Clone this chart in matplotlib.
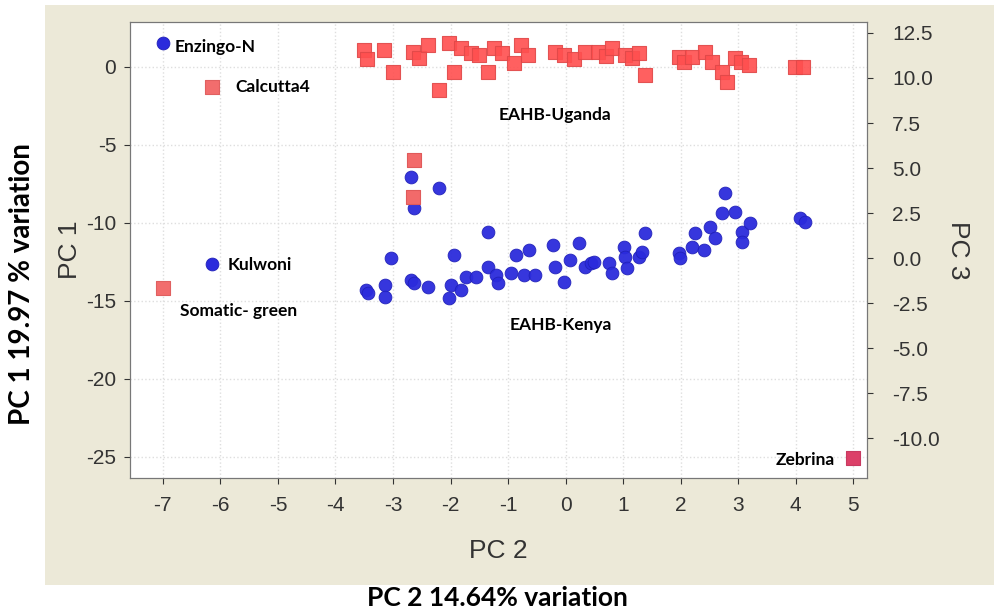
import matplotlib.pyplot as plt
from matplotlib.patches import Rectangle

plt.rcParams['axes.unicode_minus'] = False

# PC2 / PC1 scores for the EAHB-Uganda group (red squares)
uganda_pc2 = [-3.51, -3.45, -3.16, -3.00, -2.65, -2.55, -2.39, -2.20, -2.03, -1.94,
              -1.82, -1.64, -1.50, -1.35, -1.24, -1.10, -0.89, -0.77, -0.65, -0.19,
              -0.02, 0.15, 0.33, 0.57, 0.70, 0.80, 1.03, 1.15, 1.27, 1.38,
              1.97, 2.05, 2.20, 2.42, 2.55, 2.72, 2.81, 2.95, 3.05, 3.19,
              3.98, 4.12]
uganda_pc1 = [1.09, 0.50, 1.09, -0.32, 0.96, 0.60, 1.41, -1.47, 1.54, -0.32,
              1.22, 0.90, 0.77, -0.32, 1.22, 0.90, 0.26, 1.41, 0.77, 0.96,
              0.77, 0.50, 0.96, 0.96, 0.70, 1.22, 0.77, 0.60, 0.90, -0.51,
              0.64, 0.30, 0.64, 0.96, 0.32, -0.32, -0.96, 0.58, 0.30, 0.13,
              0.00, 0.00]

# squares that sit inside the Kenya cloud
mixed_pc2 = [-2.64, -2.65]
mixed_pc1 = [-5.96, -8.33]

# PC2 / PC1 scores for the EAHB-Kenya group (blue circles)
kenya_pc2 = [-2.69, -2.20, -2.64, -1.35, -3.04, -1.94, -0.86, -0.63, -0.21, 0.23,
             -3.47, -3.44, -3.13, -3.13, -2.69, -2.64, -2.39, -1.99, -2.03, -1.82,
             -1.73, -1.56, -1.35, -1.21, -1.17, -0.94, -0.72, -0.54, -0.19, -0.02,
             0.07, 0.33, 0.45, 0.49, 0.75, 0.80, 1.01, 1.03, 1.06, 1.27,
             1.32, 1.38, 1.97, 1.99, 2.20, 2.25, 2.41, 2.51, 2.60, 2.72,
             2.77, 2.95, 3.07, 3.07, 3.21, 4.08, 4.17]
kenya_pc1 = [-7.05, -7.76, -9.04, -10.58, -12.24, -12.05, -12.05, -11.73, -11.41, -11.28,
             -14.29, -14.49, -13.97, -14.74, -13.65, -13.85, -14.10, -13.97, -14.81, -14.29,
             -13.46, -13.46, -12.82, -13.33, -13.85, -13.21, -13.33, -13.33, -12.82, -13.78,
             -12.37, -12.82, -12.56, -12.50, -12.56, -13.21, -11.54, -12.18, -12.88, -12.18,
             -11.86, -10.64, -11.92, -12.24, -11.54, -10.64, -11.73, -10.26, -10.96, -9.36,
             -8.08, -9.29, -10.58, -11.22, -10.00, -9.68, -9.94]

# named accessions
enzingo = (-7.0, 1.54)
kulwoni = (-6.14, -12.63)
calcutta4 = (-6.14, -1.28)
somatic_green = (-7.0, -14.17)
zebrina = (5.0, -25.06)

x_ticks = [-7, -6, -5, -4, -3, -2, -1, 0, 1, 2, 3, 4, 5]
y_ticks = [0, -5, -10, -15, -20, -25]
pc3_ticks = [12.5, 10.0, 7.5, 5.0, 2.5, 0.0, -2.5, -5.0, -7.5, -10.0]

tick_font = ['Liberation Sans Narrow', 'Liberation Sans', 'DejaVu Sans']
label_font = ['Lato', 'DejaVu Sans']

fig = plt.figure(figsize=(9.95, 6.13), dpi=100)
fig.patch.set_facecolor('white')
fig.patches.append(Rectangle((0.045, 0.046), 0.955, 0.946, transform=fig.transFigure,
                             facecolor='#ECE9D8', edgecolor='none', zorder=-10))

ax = fig.add_axes([0.1307, 0.2202, 0.7407, 0.7439])
ax.set_facecolor('white')

ax.scatter(uganda_pc2, uganda_pc1, marker='s', s=110, color='#ff4f4f',
           edgecolors='#e04848', linewidths=0.8, alpha=0.9, zorder=3)
ax.scatter(mixed_pc2, mixed_pc1, marker='s', s=110, color='#f26a6a',
           edgecolors='#e05a5a', linewidths=0.8, zorder=4)
ax.scatter(kenya_pc2, kenya_pc1, marker='o', s=85, color='#2b2bdc',
           edgecolors='#2020b8', linewidths=0.6, alpha=0.95, zorder=3)
ax.scatter([calcutta4[0], somatic_green[0]], [calcutta4[1], somatic_green[1]],
           marker='s', s=110, color='#f26d6d', edgecolors='#e06060', linewidths=0.8, zorder=3)
ax.scatter([zebrina[0]], [zebrina[1]], marker='s', s=90, color='#dc4068',
           edgecolors='#c83a60', linewidths=0.8, zorder=3)
ax.scatter([enzingo[0], kulwoni[0]], [enzingo[1], kulwoni[1]], marker='o', s=85,
           color='#2b2bdc', edgecolors='#2020b8', linewidths=0.6, zorder=3)

ax.set_xlim(-7.57, 5.24)
ax.set_ylim(-26.35, 2.88)
ax.set_xticks(x_ticks)
ax.set_yticks(y_ticks)
ax.set_xticklabels([str(t) for t in x_ticks], family=tick_font, fontsize=15)
ax.set_yticklabels([str(t) for t in y_ticks], family=tick_font, fontsize=15)
ax.tick_params(colors='#333333', length=4, width=0.8, pad=6)
ax.tick_params(axis='x', pad=9)
ax.grid(True, color='#dedede', linestyle=':', linewidth=1.0, zorder=0)
for sp in ax.spines.values():
    sp.set_color('#777777')

ax.set_xlabel('PC 2', family=tick_font, fontsize=19, color='#333333', labelpad=17)
ax.set_ylabel('PC 1', family=tick_font, fontsize=19, color='#333333', labelpad=3)

ax3 = ax.twinx()
ax3.set_ylim(-12.22, 13.11)
ax3.set_yticks(pc3_ticks)
ax3.set_yticklabels(['%.1f' % t for t in pc3_ticks], family=tick_font, fontsize=15)
ax3.tick_params(colors='#333333', length=4, width=0.8, pad=14)
ax3.set_ylabel('PC 3', family=tick_font, fontsize=19, color='#333333',
               rotation=-90, labelpad=22)
for sp in ax3.spines.values():
    sp.set_color('#777777')

# accession and group names
names = [('Enzingo-N', -6.79, 1.28), ('Calcutta4', -5.74, -1.28),
         ('EAHB-Uganda', -1.17, -3.08), ('Kulwoni', -5.87, -12.69),
         ('Somatic- green', -6.70, -15.64), ('EAHB-Kenya', -0.98, -16.54),
         ('Zebrina', 3.65, -25.19)]
for txt, x, y in names:
    ax.text(x, y, txt, family=label_font, fontweight='bold', fontsize=12.5,
            color='black', ha='left', va='center', zorder=5)

fig.text(0.5, 0.024, 'PC 2 14.64% variation', family=label_font, fontweight='bold',
         fontsize=19, ha='center', va='center')
fig.text(0.022, 0.537, 'PC 1 19.97 % variation', family=label_font, fontweight='bold',
         fontsize=20, ha='center', va='center', rotation=90)

fig.savefig('out.png', dpi=100)
